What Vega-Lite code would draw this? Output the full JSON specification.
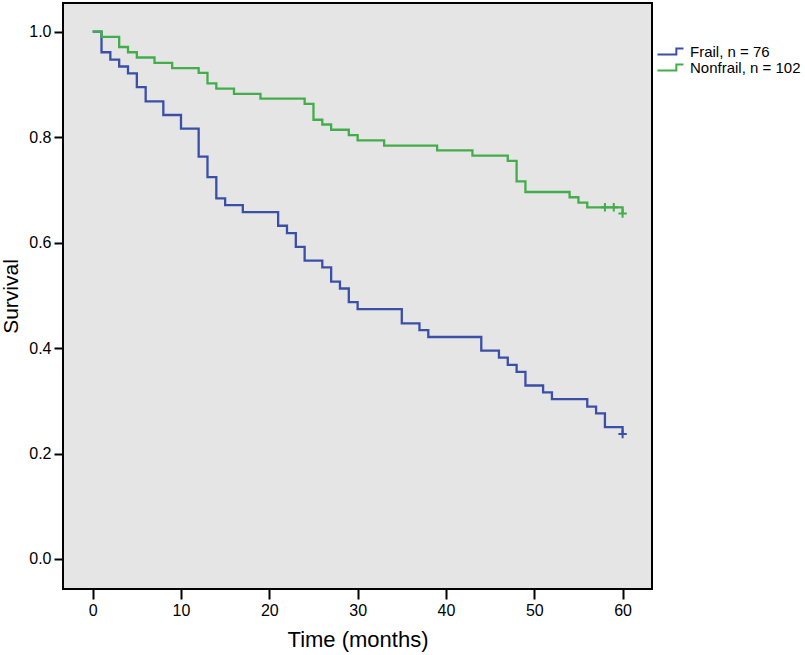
{
  "$schema": "https://vega.github.io/schema/vega-lite/v6.json",
  "width": 589,
  "height": 586,
  "autosize": {"type": "none"},
  "padding": {"left": 63, "top": 3, "right": 153, "bottom": 66},
  "background": "white",
  "config": {
    "font": "Liberation Sans",
    "view": {"fill": "#e5e5e5", "stroke": "black", "strokeWidth": 2},
    "axis": {"grid": false, "domain": false, "tickColor": "black", "tickWidth": 2, "labelColor": "black", "titleColor": "black", "labelFont": "Liberation Sans", "titleFont": "Liberation Sans", "labelFontSize": 16, "titleFontSize": 21, "titleFontWeight": "normal"},
    "legend": {"labelFont": "Liberation Sans", "labelFontSize": 15, "labelColor": "black"}
  },
  "datasets": {
    "curves": [
      {"group": "Frail, n = 76", "time": 0, "surv": 1.0},
      {"group": "Frail, n = 76", "time": 1, "surv": 0.961},
      {"group": "Frail, n = 76", "time": 2, "surv": 0.947},
      {"group": "Frail, n = 76", "time": 3, "surv": 0.934},
      {"group": "Frail, n = 76", "time": 4, "surv": 0.921},
      {"group": "Frail, n = 76", "time": 5, "surv": 0.895},
      {"group": "Frail, n = 76", "time": 6, "surv": 0.868},
      {"group": "Frail, n = 76", "time": 8, "surv": 0.842},
      {"group": "Frail, n = 76", "time": 10, "surv": 0.816},
      {"group": "Frail, n = 76", "time": 12, "surv": 0.763},
      {"group": "Frail, n = 76", "time": 13, "surv": 0.724},
      {"group": "Frail, n = 76", "time": 14, "surv": 0.684},
      {"group": "Frail, n = 76", "time": 15, "surv": 0.671},
      {"group": "Frail, n = 76", "time": 17, "surv": 0.658},
      {"group": "Frail, n = 76", "time": 21, "surv": 0.632},
      {"group": "Frail, n = 76", "time": 22, "surv": 0.618},
      {"group": "Frail, n = 76", "time": 23, "surv": 0.592},
      {"group": "Frail, n = 76", "time": 24, "surv": 0.566},
      {"group": "Frail, n = 76", "time": 26, "surv": 0.553},
      {"group": "Frail, n = 76", "time": 27, "surv": 0.526},
      {"group": "Frail, n = 76", "time": 28, "surv": 0.513},
      {"group": "Frail, n = 76", "time": 29, "surv": 0.487},
      {"group": "Frail, n = 76", "time": 30, "surv": 0.474},
      {"group": "Frail, n = 76", "time": 35, "surv": 0.447},
      {"group": "Frail, n = 76", "time": 37, "surv": 0.434},
      {"group": "Frail, n = 76", "time": 38, "surv": 0.421},
      {"group": "Frail, n = 76", "time": 44, "surv": 0.395},
      {"group": "Frail, n = 76", "time": 46, "surv": 0.382},
      {"group": "Frail, n = 76", "time": 47, "surv": 0.368},
      {"group": "Frail, n = 76", "time": 48, "surv": 0.355},
      {"group": "Frail, n = 76", "time": 49, "surv": 0.329},
      {"group": "Frail, n = 76", "time": 51, "surv": 0.316},
      {"group": "Frail, n = 76", "time": 52, "surv": 0.303},
      {"group": "Frail, n = 76", "time": 56, "surv": 0.289},
      {"group": "Frail, n = 76", "time": 57, "surv": 0.276},
      {"group": "Frail, n = 76", "time": 58, "surv": 0.250},
      {"group": "Frail, n = 76", "time": 60, "surv": 0.237},
      {"group": "Nonfrail, n = 102", "time": 0, "surv": 1.0},
      {"group": "Nonfrail, n = 102", "time": 1, "surv": 0.990},
      {"group": "Nonfrail, n = 102", "time": 3, "surv": 0.971},
      {"group": "Nonfrail, n = 102", "time": 4, "surv": 0.961},
      {"group": "Nonfrail, n = 102", "time": 5, "surv": 0.951},
      {"group": "Nonfrail, n = 102", "time": 7, "surv": 0.941},
      {"group": "Nonfrail, n = 102", "time": 9, "surv": 0.931},
      {"group": "Nonfrail, n = 102", "time": 12, "surv": 0.922},
      {"group": "Nonfrail, n = 102", "time": 13, "surv": 0.902},
      {"group": "Nonfrail, n = 102", "time": 14, "surv": 0.892},
      {"group": "Nonfrail, n = 102", "time": 16, "surv": 0.882},
      {"group": "Nonfrail, n = 102", "time": 19, "surv": 0.873},
      {"group": "Nonfrail, n = 102", "time": 24, "surv": 0.863},
      {"group": "Nonfrail, n = 102", "time": 25, "surv": 0.833},
      {"group": "Nonfrail, n = 102", "time": 26, "surv": 0.824},
      {"group": "Nonfrail, n = 102", "time": 27, "surv": 0.814},
      {"group": "Nonfrail, n = 102", "time": 29, "surv": 0.804},
      {"group": "Nonfrail, n = 102", "time": 30, "surv": 0.794},
      {"group": "Nonfrail, n = 102", "time": 33, "surv": 0.784},
      {"group": "Nonfrail, n = 102", "time": 39, "surv": 0.775},
      {"group": "Nonfrail, n = 102", "time": 43, "surv": 0.765},
      {"group": "Nonfrail, n = 102", "time": 47, "surv": 0.755},
      {"group": "Nonfrail, n = 102", "time": 48, "surv": 0.716},
      {"group": "Nonfrail, n = 102", "time": 49, "surv": 0.696},
      {"group": "Nonfrail, n = 102", "time": 54, "surv": 0.686},
      {"group": "Nonfrail, n = 102", "time": 55, "surv": 0.676},
      {"group": "Nonfrail, n = 102", "time": 56, "surv": 0.667},
      {"group": "Nonfrail, n = 102", "time": 60, "surv": 0.655}
    ],
    "censored": [
      {"group": "Frail, n = 76", "time": 60, "surv": 0.237},
      {"group": "Nonfrail, n = 102", "time": 58, "surv": 0.667},
      {"group": "Nonfrail, n = 102", "time": 59, "surv": 0.667},
      {"group": "Nonfrail, n = 102", "time": 60, "surv": 0.655}
    ]
  },
  "layer": [
    {
      "data": {"name": "curves"},
      "mark": {"type": "line", "interpolate": "step-after", "strokeWidth": 2.3},
      "encoding": {
        "x": {"field": "time", "type": "quantitative", "scale": {"domain": [-3.36, 63.33], "nice": false, "zero": false},
          "axis": {"values": [0, 10, 20, 30, 40, 50, 60], "tickSize": 10, "labelPadding": 3, "labelFontSize": 16, "title": "Time (months)", "titleFontSize": 22, "titlePadding": 11}},
        "y": {"field": "surv", "type": "quantitative", "scale": {"domain": [-0.0569, 1.0544], "nice": false, "zero": false},
          "axis": {"values": [0, 0.2, 0.4, 0.6, 0.8, 1.0], "format": ".1f", "tickSize": 9, "labelPadding": 3, "labelFontSize": 16, "title": "Survival", "titleFontSize": 21, "titlePadding": 7}},
        "color": {"field": "group", "type": "nominal",
          "scale": {"domain": ["Frail, n = 76", "Nonfrail, n = 102"], "range": ["#3a4fa8", "#43ad4b"]},
          "legend": {"title": null, "orient": "none", "legendX": 600, "legendY": 41,
            "symbolType": "M-2,0.45L0.9,0.45L0.9,-0.45L2,-0.45", "symbolSize": 169, "symbolStrokeWidth": 2,
            "labelOffset": 12, "rowPadding": 0, "labelFontSize": 15}}
      }
    },
    {
      "data": {"name": "censored"},
      "mark": {"type": "point", "shape": "M-1,0L1,0M0,-1L0,1", "filled": false, "size": 70, "strokeWidth": 2, "opacity": 1},
      "encoding": {
        "x": {"field": "time", "type": "quantitative"},
        "y": {"field": "surv", "type": "quantitative"},
        "stroke": {"field": "group", "type": "nominal",
          "scale": {"domain": ["Frail, n = 76", "Nonfrail, n = 102"], "range": ["#3a4fa8", "#43ad4b"]},
          "legend": null}
      }
    }
  ]
}
